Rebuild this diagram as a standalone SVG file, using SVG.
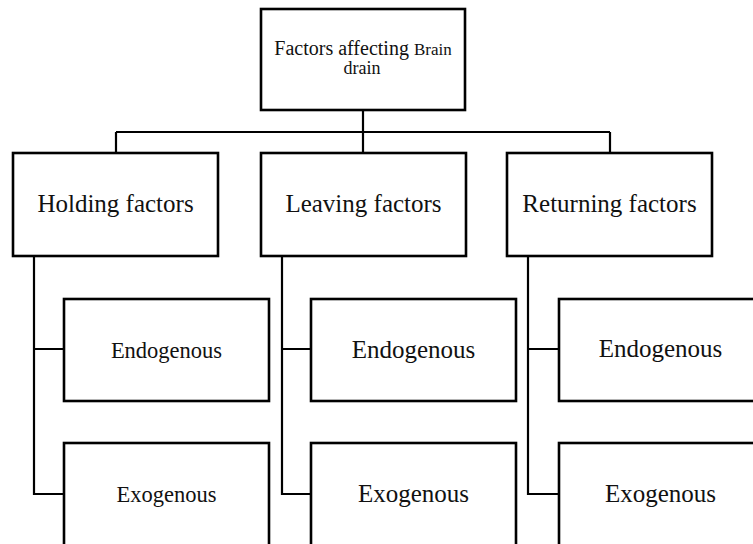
<svg xmlns="http://www.w3.org/2000/svg" width="753" height="544" viewBox="0 0 753 544">
<style>
.box{fill:#fff;stroke:#000;stroke-width:2.6}
.ln{fill:none;stroke:#000;stroke-width:2.2}
text{font-family:"Liberation Serif","Times New Roman",serif;fill:#111;text-anchor:middle}
.big{font-size:25px}
.mid{font-size:22.5px}
</style>
<rect x="0" y="0" width="753" height="544" fill="#fff"/>
<g id="connectors">
<path class="ln" d="M363 110V153M116 132H610M116 132V153M610 132V153"/>
<path class="ln" d="M34 256V494H64M34 349H64"/>
<path class="ln" d="M282 256V494H311M282 349H311"/>
<path class="ln" d="M528 256V494H559M528 349H559"/>
</g>
<g id="root">
<rect class="box" x="261" y="9" width="204" height="101"/>
<text x="363" y="55" style="font-size:20px">Factors affecting <tspan style="font-size:17px">Brain</tspan></text>
<text x="362" y="74" style="font-size:18px">drain</text>
</g>
<g id="holding">
<rect class="box" x="13" y="153" width="205" height="103"/>
<text class="big" x="115.5" y="212">Holding factors</text>
</g>
<g id="leaving">
<rect class="box" x="261" y="153" width="205" height="103"/>
<text class="big" x="363.5" y="212">Leaving factors</text>
</g>
<g id="returning">
<rect class="box" x="507" y="153" width="205" height="103"/>
<text class="big" x="609.5" y="212">Returning factors</text>
</g>
<g id="holding-endo">
<rect class="box" x="64" y="299" width="205" height="102"/>
<text class="mid" x="166.5" y="357.5">Endogenous</text>
</g>
<g id="holding-exo">
<rect class="box" x="64" y="443" width="205" height="104"/>
<text class="mid" x="166.5" y="502">Exogenous</text>
</g>
<g id="leaving-endo">
<rect class="box" x="311" y="299" width="205" height="102"/>
<text class="big" x="413.5" y="357.5">Endogenous</text>
</g>
<g id="leaving-exo">
<rect class="box" x="311" y="443" width="205" height="104"/>
<text class="big" x="413.5" y="502">Exogenous</text>
</g>
<g id="returning-endo">
<rect class="box" x="559" y="299" width="205" height="102"/>
<text class="big" x="660.5" y="357">Endogenous</text>
</g>
<g id="returning-exo">
<rect class="box" x="559" y="443" width="205" height="104"/>
<text class="big" x="660.5" y="502">Exogenous</text>
</g>
</svg>
